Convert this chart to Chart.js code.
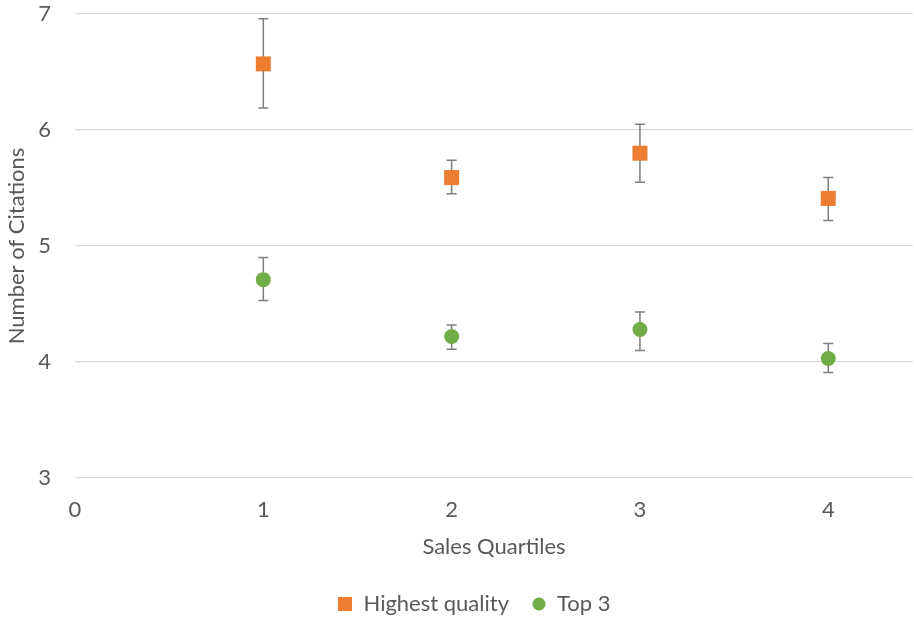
<!DOCTYPE html>
<html>
<head>
<meta charset="utf-8">
<script src="https://cdn.jsdelivr.net/npm/chart.js@4"></script>
<style>
  html, body { margin: 0; padding: 0; background: #fff; }
  #wrap { width: 914px; height: 625px; }
</style>
</head>
<body>
<div id="wrap"><canvas id="citeChart"></canvas></div>
<script>
// Sales quartiles and mean citations
const quartiles = [1, 2, 3, 4];
const highestQuality = [6.57, 5.59, 5.80, 5.41];
const highestUpper = [6.96, 5.74, 6.05, 5.59];
const highestLower = [6.19, 5.45, 5.55, 5.22];
const top3 = [4.71, 4.22, 4.28, 4.03];
const top3Upper = [4.90, 4.32, 4.43, 4.16];
const top3Lower = [4.53, 4.11, 4.10, 3.91];
const xTicks = [0, 1, 2, 3, 4];

const orange = "#ED7D31";
const green = "#70AD47";
const textColor = "#595959";
const fontFamily = "Lato, 'Open Sans', sans-serif";
const fontSize = 22;

// Small canvases used as legend markers
function legendMarker(kind, color) {
    const c = document.createElement("canvas");
    c.width = 14;
    c.height = 14;
    const g = c.getContext("2d");
    g.fillStyle = color;
    if (kind === "rect") {
        g.fillRect(0, 0, 14, 14);
    } else {
        g.beginPath();
        g.arc(7, 7, 6.5, 0, Math.PI * 2);
        g.fill();
    }
    return c;
}

// Draw vertical error bars with caps behind the markers
const errorBars = {
    id: "errorBars",
    beforeDatasetsDraw(chart) {
        const ctx = chart.ctx;
        const xs = chart.scales.x;
        const ys = chart.scales.y;
        ctx.save();
        ctx.strokeStyle = "#7f7f7f";
        ctx.lineWidth = 1.5;
        chart.data.datasets.forEach((ds) => {
            ds.data.forEach((pt, i) => {
                const x = xs.getPixelForValue(pt.x);
                const yTop = ys.getPixelForValue(ds.upper[i]);
                const yBot = ys.getPixelForValue(ds.lower[i]);
                ctx.beginPath();
                ctx.moveTo(x, yTop);
                ctx.lineTo(x, yBot);
                ctx.moveTo(x - 5, yTop);
                ctx.lineTo(x + 5, yTop);
                ctx.moveTo(x - 5, yBot);
                ctx.lineTo(x + 5, yBot);
                ctx.stroke();
            });
        });
        ctx.restore();
    },
};

// Legend sits a little right of centre in the original
const legendShift = {
    id: "legendShift",
    afterLayout(chart) {
        chart.legend.left += 36;
    },
};

const ctx = document.getElementById("citeChart").getContext("2d");

new Chart(ctx, {
    type: "scatter",
    data: {
        datasets: [
            {
                label: "Highest quality",
                data: quartiles.map((q, i) => ({ x: q, y: highestQuality[i] })),
                upper: highestUpper,
                lower: highestLower,
                pointStyle: "rect",
                pointRadius: 10.6,
                pointHoverRadius: 10.6,
                backgroundColor: orange,
                borderColor: orange,
                borderWidth: 0,
            },
            {
                label: "Top 3",
                data: quartiles.map((q, i) => ({ x: q, y: top3[i] })),
                upper: top3Upper,
                lower: top3Lower,
                pointStyle: "circle",
                pointRadius: 7.5,
                pointHoverRadius: 7.5,
                backgroundColor: green,
                borderColor: green,
                borderWidth: 0,
            },
        ],
    },
    options: {
        responsive: true,
        maintainAspectRatio: false,
        animation: false,
        layout: {
            autoPadding: false,
            padding: { top: 14, right: 1, left: 0, bottom: 0 },
        },
        scales: {
            x: {
                type: "linear",
                min: 0,
                max: 4.45,
                afterFit: (scale) => {
                    scale.height = 92;
                    scale.paddingLeft = 0;
                    scale.paddingRight = 0;
                },
                afterBuildTicks: (scale) => {
                    scale.ticks = xTicks.map((v) => ({ value: v }));
                },
                grid: { display: false, drawTicks: false },
                border: { display: false },
                ticks: {
                    color: textColor,
                    font: { family: fontFamily, size: fontSize },
                    padding: 19,
                },
                title: {
                    display: true,
                    text: "Sales Quartiles",
                    color: textColor,
                    font: { family: fontFamily, size: fontSize },
                    padding: { top: 4, bottom: 10 },
                },
            },
            y: {
                min: 3,
                max: 7,
                afterFit: (scale) => {
                    scale.width = 75;
                    scale.paddingTop = 0;
                    scale.paddingBottom = 0;
                },
                grid: { color: "#d9d9d9", lineWidth: 1.3, drawTicks: false },
                border: { display: false },
                ticks: {
                    stepSize: 1,
                    color: textColor,
                    font: { family: fontFamily, size: fontSize },
                    padding: 24,
                },
                title: {
                    display: true,
                    text: "Number of Citations",
                    color: textColor,
                    font: { family: fontFamily, size: fontSize },
                    padding: { top: 4, bottom: 0 },
                },
            },
        },
        plugins: {
            legend: {
                display: true,
                position: "bottom",
                labels: {
                    usePointStyle: true,
                    boxWidth: 14,
                    boxHeight: 14,
                    padding: 23,
                    color: textColor,
                    font: { family: fontFamily, size: fontSize },
                    generateLabels: (chart) => {
                        const items = Chart.defaults.plugins.legend.labels.generateLabels(chart);
                        items[0].pointStyle = legendMarker("rect", orange);
                        items[1].pointStyle = legendMarker("circle", green);
                        return items;
                    },
                },
            },
            tooltip: { enabled: false },
        },
    },
    plugins: [errorBars, legendShift],
});
</script>
</body>
</html>
